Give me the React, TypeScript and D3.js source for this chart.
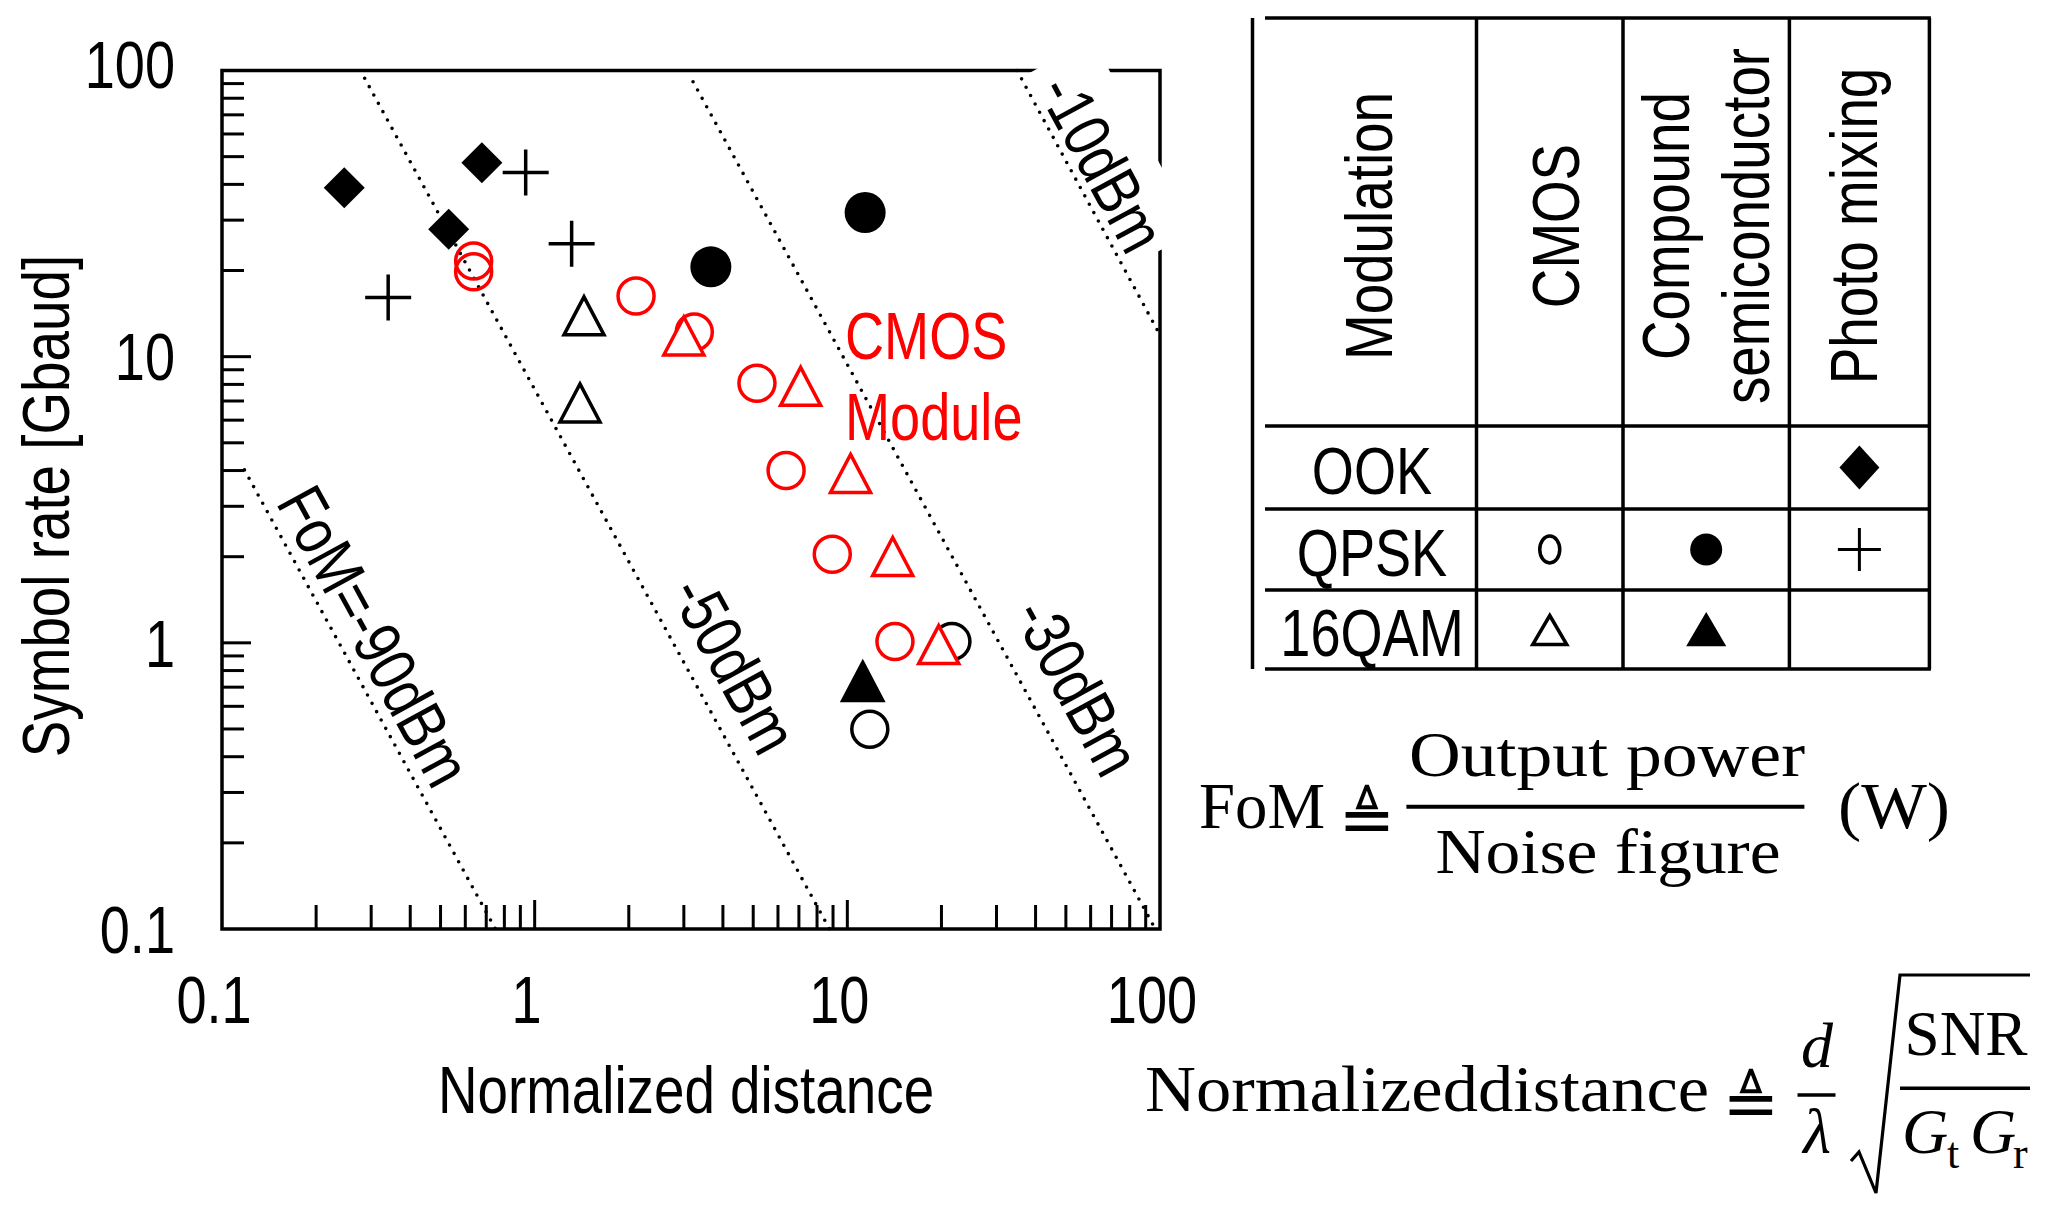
import React, { useEffect } from 'react';
import * as d3 from 'd3';

type Pt = [number, number];

// ---- data (normalized distance, symbol rate in Gbaud) ----
// Photo mixing
const ookPhotoMixing: Pt[] = [[0.246, 38.9], [0.678, 47.6], [0.531, 27.9]];
const qpskPhotoMixing: Pt[] = [[0.936, 44.0], [1.313, 24.8], [0.34, 16.1]];
// Compound semiconductor
const qpskCompound: Pt[] = [[3.66, 20.6], [11.4, 31.9]];
const qam16Compound: Pt[] = [[11.2, 0.739]];
// CMOS (black)
const qpskCmos: Pt[] = [[21.6, 1.01], [11.8, 0.499]];
const qam16Cmos: Pt[] = [[1.438, 14.0], [1.396, 6.95]];
// CMOS module (red)
const qpskCmosModule: Pt[] = [
  [0.638, 21.6], [0.638, 19.8], [2.11, 16.3], [3.24, 12.2],
  [5.14, 8.07], [6.37, 4.0], [8.95, 2.04], [14.2, 1.01],
];
const qam16CmosModule: Pt[] = [[3.0, 11.9], [7.09, 7.94], [10.24, 3.94], [13.97, 2.02], [19.6, 0.994]];

// constant-FoM guide lines (end points) and where their labels sit
const fomLabels = ['FoM=-90dBm', '-50dBm', '-30dBm', '-10dBm'];
const fomFrom: Pt[] = [[0.118, 4.02], [0.286, 93.9], [3.21, 91.4], [34.9, 100]];
const fomTo: Pt[] = [[0.749, 0.1], [8.77, 0.1], [96.6, 0.1], [100, 11.9]];
const fomLabelAt: Pt[] = [[0.3085, 1.06], [4.37, 0.841], [54.6, 0.705], [65.7, 47.6]];

const decades = [0.1, 1, 10, 100];
const decadeLabels = ['0.1', '1', '10', '100'];

const modulations = ['OOK', 'QPSK', '16QAM'];
const technologies = [['CMOS'], ['Compound', 'semiconductor'], ['Photo mixing']];
type Kind = 'diamond' | 'plus' | 'ring' | 'disc' | 'tri' | 'triFill';
// [row, column, marker]
const legendCells: [number, number, Kind][] = [
  [0, 2, 'diamond'],
  [1, 0, 'ring'], [1, 1, 'disc'], [1, 2, 'plus'],
  [2, 0, 'tri'], [2, 1, 'triFill'],
];

const SANS = '"Liberation Sans", Arial, Helvetica, sans-serif';
const SERIF = '"Liberation Serif", "Times New Roman", serif';
const RED = '#ff0000';

function Label({ x, y, rot = 0, sx = 0.82, size = 66, anchor = 'middle', fill = '#000', dy, children }: any) {
  return (
    <text
      transform={`translate(${x},${y}) rotate(${rot}) scale(${sx},1)`}
      textAnchor={anchor}
      fontSize={size}
      fontFamily={SANS}
      fill={fill}
      dy={dy}
    >
      {children}
    </text>
  );
}

function Marker({ kind, cx, cy, color = '#000', small = false }: { kind: Kind; cx: number; cy: number; color?: string; small?: boolean }) {
  const t = `translate(${cx},${cy})`;
  if (kind === 'diamond') {
    const w = small ? 20 : 20.5;
    const h = small ? 22 : 20.5;
    return <path transform={t} d={`M0,${-h}L${w},0L0,${h}L${-w},0Z`} fill={color} />;
  }
  if (kind === 'plus') {
    const a = small ? 21.5 : 23;
    return <path transform={t} d={`M${-a},0H${a}M0,${-a}V${a}`} stroke={color} strokeWidth={small ? 3 : 3.5} fill="none" />;
  }
  if (kind === 'ring') {
    return small
      ? <ellipse transform={t} rx={10} ry={13.5} fill="none" stroke={color} strokeWidth={3.5} />
      : <circle transform={t} r={18} fill="none" stroke={color} strokeWidth={3.5} />;
  }
  if (kind === 'disc') return <circle transform={t} r={small ? 16 : 20.5} fill={color} />;
  const top = small ? -14 : -18;
  const bot = small ? 15 : 20;
  const hw = small ? 17 : 20;
  return (
    <path
      transform={t}
      d={`M0,${top}L${hw},${bot}L${-hw},${bot}Z`}
      fill={kind === 'triFill' ? color : '#fff'}
      stroke={color}
      strokeWidth={3.5}
      strokeLinejoin="miter"
    />
  );
}

export default function App() {
  useEffect(() => {
    document.body.style.margin = '0';
  }, []);

  const x = d3.scaleLog().domain([0.1, 100]).range([222, 1160]);
  const y = d3.scaleLog().domain([0.1, 100]).range([929, 70.5]);
  const [x0, x1] = x.range();
  const [y0, y1] = y.range();

  const isMajor = (v: number) => Math.abs(Math.log10(v) - Math.round(Math.log10(v))) < 1e-6;
  const xt = x.ticks().filter(v => v > 0.1001 && v < 99.9);
  const yt = y.ticks().filter(v => v > 0.1001 && v < 99.9);

  const line = d3.line<Pt>().x(d => x(d[0])).y(d => y(d[1]));

  // table layout
  const colX = [1252.5, 1476.5, 1623, 1789.4, 1929.4];
  const rowY = [18, 426, 509, 590, 669];
  const colC = (c: number) => (colX[c + 1] + colX[c + 2]) / 2;
  const rowC = (r: number) => (rowY[r + 1] + rowY[r + 2]) / 2;
  const headerBase = [[1392], [1579], [1689, 1769], [1877]];

  // -10dBm label backdrop
  const ang10 = (Math.atan2(y(fomTo[3][1]) - y(fomFrom[3][1]), x(fomTo[3][0]) - x(fomFrom[3][0])) * 180) / Math.PI;

  return (
    <svg width={2048} height={1208} style={{ display: 'block', background: '#fff' }}>
      <rect width={2048} height={1208} fill="#fff" />

      {/* plot frame and ticks */}
      <rect x={x0} y={y1} width={x1 - x0} height={y0 - y1} fill="none" stroke="#000" strokeWidth={3.5} />
      {xt.map((v, i) => (
        <line key={`xt${i}`} x1={x(v)} x2={x(v)} y1={y0} y2={y0 - (isMajor(v) ? 29 : 24)} stroke="#000" strokeWidth={3} />
      ))}
      {yt.map((v, i) => (
        <line key={`yt${i}`} x1={x0} x2={x0 + (isMajor(v) ? 29 : 22)} y1={y(v)} y2={y(v)} stroke="#000" strokeWidth={3} />
      ))}
      {decades.map((v, i) => (
        <Label key={`xl${i}`} x={x(v) - 8} y={1023}>{decadeLabels[i]}</Label>
      ))}
      {decades.map((v, i) => (
        <Label key={`yl${i}`} x={175} y={y(v) - (i === 3 ? 6 : 0)} anchor="end" dy="0.36em">{decadeLabels[i]}</Label>
      ))}
      <Label x={686} y={1113} sx={0.83}>Normalized distance</Label>
      <Label x={69} y={506} rot={-90} sx={0.83}>Symbol rate [Gbaud]</Label>

      {/* white patch behind the -10dBm label */}
      <rect
        transform={`translate(1109,154) rotate(${ang10})`}
        x={-109}
        y={-40}
        width={218}
        height={80}
        fill="#fff"
      />

      {/* constant FoM lines */}
      {fomLabels.map((lab, i) => {
        const a = (Math.atan2(y(fomTo[i][1]) - y(fomFrom[i][1]), x(fomTo[i][0]) - x(fomFrom[i][0])) * 180) / Math.PI;
        return (
          <g key={lab}>
            <path
              d={line([fomFrom[i], fomTo[i]]) || ''}
              fill="none"
              stroke="#000"
              strokeWidth={3.6}
              strokeDasharray="0 9.5"
              strokeLinecap="round"
            />
            <Label x={x(fomLabelAt[i][0])} y={y(fomLabelAt[i][1])} rot={a} dy="0.36em">{lab}</Label>
          </g>
        );
      })}

      {/* data points */}
      {qpskCmosModule.map((d, i) => <Marker key={`qm${i}`} kind="ring" cx={x(d[0])} cy={y(d[1])} color={RED} />)}
      {qpskCmos.map((d, i) => <Marker key={`qc${i}`} kind="ring" cx={x(d[0])} cy={y(d[1])} />)}
      {qpskCompound.map((d, i) => <Marker key={`qs${i}`} kind="disc" cx={x(d[0])} cy={y(d[1])} />)}
      {ookPhotoMixing.map((d, i) => <Marker key={`op${i}`} kind="diamond" cx={x(d[0])} cy={y(d[1])} />)}
      {qpskPhotoMixing.map((d, i) => <Marker key={`qp${i}`} kind="plus" cx={x(d[0])} cy={y(d[1])} />)}
      {qam16Cmos.map((d, i) => <Marker key={`tc${i}`} kind="tri" cx={x(d[0])} cy={y(d[1])} />)}
      {qam16CmosModule.map((d, i) => <Marker key={`tm${i}`} kind="tri" cx={x(d[0])} cy={y(d[1])} color={RED} />)}
      {qam16Compound.map((d, i) => <Marker key={`ts${i}`} kind="triFill" cx={x(d[0])} cy={y(d[1])} />)}

      <Label x={845} y={359} anchor="start" fill={RED}>CMOS</Label>
      <Label x={845} y={440} anchor="start" fill={RED}>Module</Label>

      {/* legend table */}
      <line x1={colX[0]} x2={colX[0]} y1={rowY[0]} y2={rowY[4]} stroke="#000" strokeWidth={3.5} />
      {colX.slice(1).map((cx, i) => (
        <line key={`tv${i}`} x1={cx} x2={cx} y1={rowY[0]} y2={rowY[4]} stroke="#000" strokeWidth={3.5} />
      ))}
      {rowY.map((ry, i) => (
        <line key={`th${i}`} x1={1265} x2={colX[4] + 1.5} y1={ry} y2={ry} stroke="#000" strokeWidth={3.5} />
      ))}
      <Label x={1392} y={226} rot={-90} sx={0.83}>Modulation</Label>
      {technologies.map((lines, c) =>
        lines.map((t, k) => (
          <Label key={`hd${c}${k}`} x={headerBase[c + 1][k]} y={226} rot={-90} sx={0.83}>{t}</Label>
        ))
      )}
      {modulations.map((m, r) => (
        <Label key={`md${r}`} x={1372} y={rowC(r) + 26.5}>{m}</Label>
      ))}
      {legendCells.map(([r, c, k], i) => (
        <Marker key={`lg${i}`} kind={k} cx={colC(c)} cy={rowC(r)} small />
      ))}

      {/* definitions */}
      <g fontFamily={SERIF} fill="#000">
        <text x={1199} y={828} fontSize={66} textLength={126} lengthAdjust="spacingAndGlyphs">FoM</text>
        <text x={1367} y={843} fontSize={68} textAnchor="middle" fontFamily='"DejaVu Sans", sans-serif'>≜</text>
        <line x1={1406.4} x2={1804.4} y1={806.7} y2={806.7} stroke="#000" strokeWidth={4} />
        <text x={1607} y={776} fontSize={64} textAnchor="middle" textLength={396} lengthAdjust="spacingAndGlyphs">Output power</text>
        <text x={1608} y={872.7} fontSize={64} textAnchor="middle" textLength={345} lengthAdjust="spacingAndGlyphs">Noise figure</text>
        <text x={1838} y={828} fontSize={66} textLength={112} lengthAdjust="spacingAndGlyphs">(W)</text>

        <text x={1145} y={1111} fontSize={66} textLength={564} lengthAdjust="spacingAndGlyphs">Normalizeddistance</text>
        <text x={1751} y={1127} fontSize={68} textAnchor="middle" fontFamily='"DejaVu Sans", sans-serif'>≜</text>
        <text x={1817} y={1067} fontSize={64} textAnchor="middle" fontStyle="italic">d</text>
        <line x1={1797.5} x2={1835.5} y1={1095} y2={1095} stroke="#000" strokeWidth={3.5} />
        <text x={1817} y={1153} fontSize={64} textAnchor="middle" fontStyle="italic">λ</text>
        <path d="M1851,1161 L1859,1152 L1876,1193 L1900,975 L2030,975" fill="none" stroke="#000" strokeWidth={3.2} strokeLinejoin="miter" />
        <text x={1966} y={1055} fontSize={64} textAnchor="middle" textLength={123} lengthAdjust="spacingAndGlyphs">SNR</text>
        <line x1={1900} x2={2030} y1={1088.3} y2={1088.3} stroke="#000" strokeWidth={3.5} />
        <text x={1902} y={1153} fontSize={64} fontStyle="italic">G</text>
        <text x={1947} y={1168} fontSize={44}>t</text>
        <text x={1970} y={1153} fontSize={64} fontStyle="italic">G</text>
        <text x={2013} y={1168} fontSize={44}>r</text>
      </g>
    </svg>
  );
}
